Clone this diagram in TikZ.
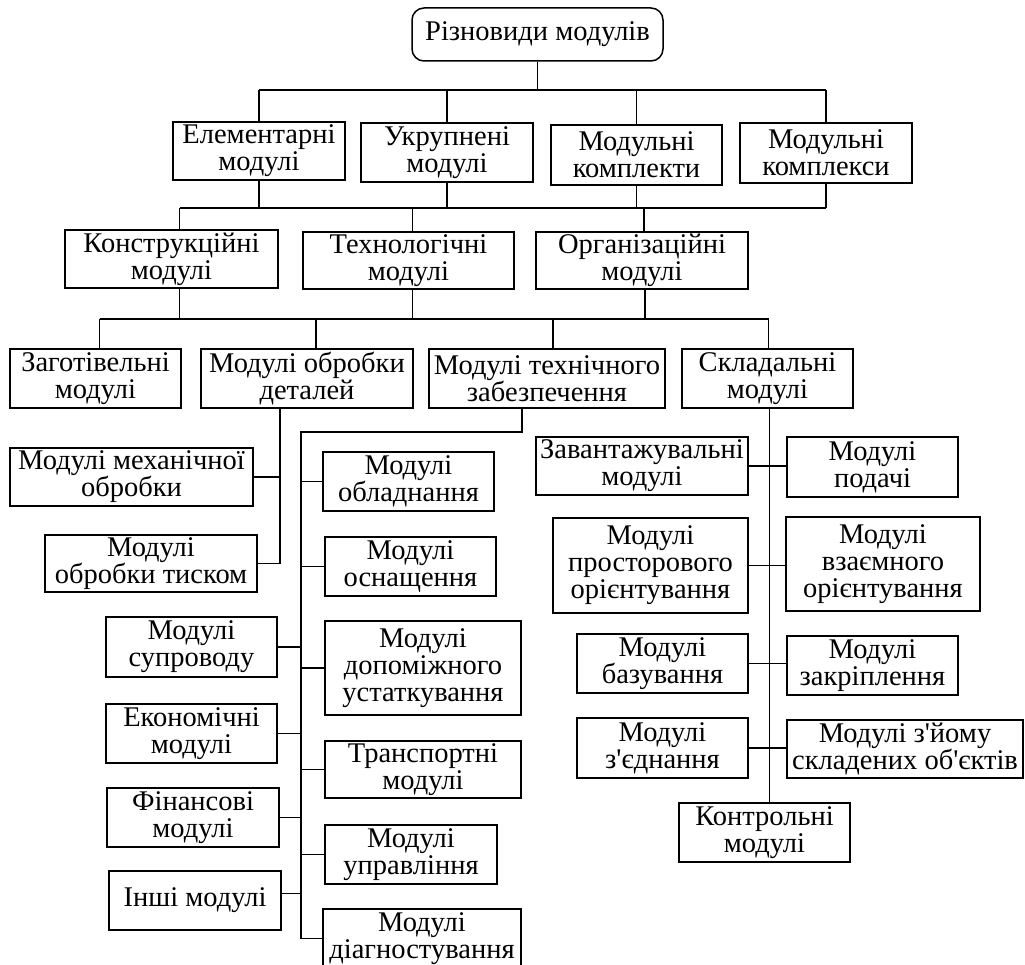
\documentclass[tikz,border=0pt]{standalone}
\usepackage{fontspec}
\setmainfont{Liberation Serif}
\usetikzlibrary{calc}
\tikzset{
  box/.style={draw, line width=1.5pt, inner sep=0pt, align=center,
    font=\fontsize{28.5}{27}\selectfont},
  rbox/.style={box, rounded corners=12pt},
  link/.style={line width=1.5pt}
}
\newcommand\bx[7][box]{\node[#1, minimum width={#5-#3}, minimum height={#6-#4}] (#2) at ({(#3+#5)/2},{-(#4+#6)/2}) {#7};}
\begin{document}
\begin{tikzpicture}[x=1pt,y=1pt]
\useasboundingbox (0,0) rectangle (1025,-965);
\clip (0,0) rectangle (1025,-965);
% level 1
\bx[rbox]{top}{412}{8}{663}{61}{Різновиди модулів}
% level 2
\bx{el}{173}{122}{345}{180}{Елементарні\\модулі}
\bx{uk}{361}{123}{533}{182}{Укрупнені\\модулі}
\bx{kt}{551}{125}{722}{185}{Модульні\\комплекти}
\bx{ks}{740}{123}{912}{183}{Модульні\\комплекси}
% level 3
\bx{kon}{65}{230}{278}{288}{Конструкційні\\модулі}
\bx{teh}{303}{232}{514}{289}{Технологічні\\модулі}
\bx{org}{536}{232}{748}{289}{Організаційні\\модулі}
% level 4
\bx{zag}{10}{349}{181}{408}{Заготівельні\\модулі}
\bx{obd}{201}{349}{413}{408}{Модулі обробки\\деталей}
\bx{tz}{429}{349}{665}{408}{Модулі технічного\\забезпечення}
\bx{skl}{682}{349}{853}{408}{Складальні\\модулі}
% under обробки деталей
\bx{mex}{10}{448}{253}{506}{Модулі механічної\\обробки}
\bx{tys}{45}{535}{257}{592}{Модулі\\обробки тиском}
% under технічного забезпечення
\bx{obl}{323}{452}{494}{511}{Модулі\\обладнання}
\bx{osn}{325}{537}{496}{596}{Модулі\\оснащення}
\bx{dop}{325}{621}{521}{715}{Модулі\\допоміжного\\устаткування}
\bx{tra}{325}{741}{521}{798}{Транспортні\\модулі}
\bx{upr}{325}{825}{497}{884}{Модулі\\управління}
\bx{dia}{323}{909}{521}{968}{Модулі\\діагностування}
\bx{sup}{106}{617}{277}{677}{Модулі\\супроводу}
\bx{eko}{106}{704}{277}{763}{Економічні\\модулі}
\bx{fin}{107}{788}{279}{847}{Фінансові\\модулі}
\bx{ins}{109}{871}{281}{930}{Інші модулі}
% under складальні
\bx{zav}{536}{437}{748}{495}{Завантажувальні\\модулі}
\bx{pod}{787}{437}{958}{497}{Модулі\\подачі}
\bx{pro}{553}{518}{748}{613}{Модулі\\просторового\\орієнтування}
\bx{vza}{786}{517}{980}{611}{Модулі\\взаємного\\орієнтування}
\bx{baz}{577}{634}{748}{693}{Модулі\\базування}
\bx{zak}{787}{636}{958}{695}{Модулі\\закріплення}
\bx{zed}{577}{718}{748}{778}{Модулі\\з\textquotesingle єднання}
\bx{zyo}{787}{720}{1023}{778}{Модулі з\textquotesingle йому\\складених об\textquotesingle єктів}
\bx{kontr}{679}{803}{850}{862}{Контрольні\\модулі}

% buses
\coordinate (bus1) at (0,-90);
\coordinate (bus2) at (0,-208);
\coordinate (bus3) at (0,-319);
% level 1 -> 2
\draw[link] (top.south) -- (top.south |- bus1);
\draw[link] (el.north |- bus1) -- (ks.north |- bus1);
\foreach \n in {el,uk,kt,ks} \draw[link] (\n.north) -- (\n.north |- bus1);
% level 2 -> 3
\foreach \n in {el,uk,kt,ks} \draw[link] (\n.south) -- (\n.south |- bus2);
\coordinate (konT) at ($(kon.north)+(8,0)$);
\coordinate (tehT) at ($(teh.north)+(4,0)$);
\coordinate (orgT) at ($(org.north)+(2,0)$);
\draw[link] (konT |- bus2) -- (ks.south |- bus2);
\foreach \c in {konT,tehT,orgT} \draw[link] (\c) -- (\c |- bus2);
% level 3 -> 4
\coordinate (konB) at ($(kon.south)+(8,0)$);
\coordinate (tehB) at ($(teh.south)+(4,0)$);
\coordinate (orgB) at ($(org.south)+(3,0)$);
\foreach \c in {konB,tehB,orgB} \draw[link] (\c) -- (\c |- bus3);
\coordinate (zagT) at ($(zag.north)+(4,0)$);
\coordinate (obdT) at ($(obd.north)+(9,0)$);
\coordinate (tzT) at ($(tz.north)+(6,0)$);
\coordinate (sklT) at ($(skl.north)+(1,0)$);
\draw[link] (zagT |- bus3) -- (sklT |- bus3);
\foreach \c in {zagT,obdT,tzT,sklT} \draw[link] (\c) -- (\c |- bus3);
% обробки деталей
\coordinate (obdB) at ($(obd.south)+(-27,0)$);
\draw[link] (obdB) -- (obdB |- tys.east) -- (tys.east);
\draw[link] (mex.east) -- (mex.east -| obdB);
% технічного забезпечення
\coordinate (tzB) at ($(tz.south)+(-25,0)$);
\coordinate (tbus) at (301,-432);
\draw[link] (tzB) |- (tbus) -- (tbus |- dia.west) -- (dia.west);
\foreach \n in {obl,osn,dop,tra,upr} \draw[link] (\n.west) -- (\n.west -| tbus);
\foreach \n in {sup,eko,fin} \draw[link] (\n.east) -- (\n.east -| tbus);
\draw[link] ([yshift=7pt]ins.east) -- ([yshift=7pt]ins.east -| tbus);
% складальні
\coordinate (sklB) at ($(skl.south)+(2,0)$);
\draw[link] (sklB) -- (sklB |- kontr.north);
\draw[link] (zav.east) -- (zav.east -| pod.west);
\draw[link] (pro.east) -- (pro.east -| vza.west);
\draw[link] (baz.east) -- (baz.east -| zak.west);
\draw[link] (zed.east) -- (zed.east -| zyo.west);
\end{tikzpicture}
\end{document}
